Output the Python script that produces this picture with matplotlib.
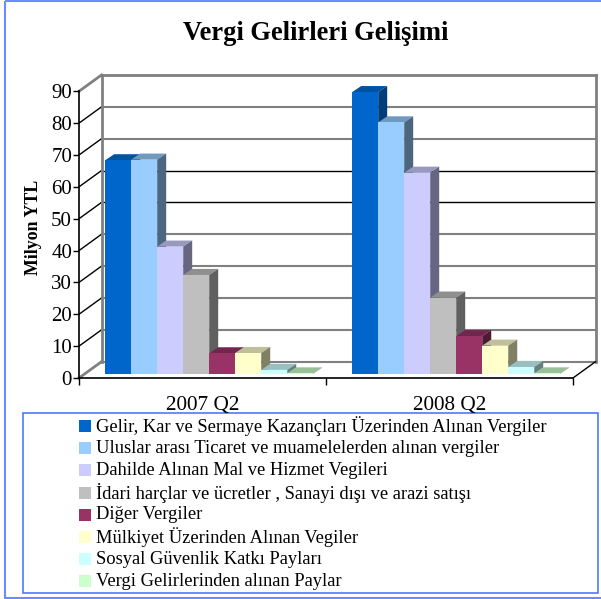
import matplotlib
matplotlib.use('Agg')
import matplotlib.pyplot as plt
from matplotlib.patches import Polygon, Rectangle

W, H = 601, 599

periods = ['2007 Q2', '2008 Q2']
names = ['Gelir, Kar ve Sermaye Kazançları Üzerinden Alınan Vergiler',
         'Uluslar arası Ticaret ve muamelelerden alınan vergiler',
         'Dahilde Alınan Mal ve Hizmet Vegileri',
         'İdari harçlar ve ücretler , Sanayi dışı ve arazi satışı',
         'Diğer Vergiler',
         'Mülkiyet Üzerinden Alınan Vegiler',
         'Sosyal Güvenlik Katkı Payları',
         'Vergi Gelirlerinden alınan Paylar']
values_2007 = [67.0, 67.2, 39.9, 31.0, 6.4, 6.5, 1.2, 0.1]
values_2008 = [88.4, 78.9, 63.1, 23.9, 11.8, 8.8, 2.1, 0.1]
yticks = [0, 10, 20, 30, 40, 50, 60, 70, 80, 90]

front = ['#0066CC', '#99CCFF', '#CCCCFF', '#BFBFBF', '#993366', '#FFFFCC', '#CCFFFF', '#CCFFCC']
top = ['#0052A3', '#7099BF', '#9999BF', '#8F8F8F', '#73264D', '#BFBF99', '#99BFBF', '#99BF99']
side = ['#003D7A', '#4D6680', '#666680', '#606060', '#4D1A33', '#808066', '#668080', '#668066']
grid_colors = {0: '#808080', 10: '#808080', 20: '#808080', 30: '#808080', 40: '#808080',
               50: '#000000', 60: '#000000', 70: '#808080', 80: '#808080', 90: '#808080'}

# depth of the walls and of the bars, in data units
wall_dx, wall_dy = 0.0911, 5.12
bar_dx, bar_dy = 0.0364, 1.9
lift = 1.35
bar_w = 0.1053
start = 0.106

fig = plt.figure(figsize=(W / 100, H / 100), dpi=100)
plt.rcParams['font.family'] = ['Liberation Serif']

# page and legend frames in pixel coordinates
bg = fig.add_axes([0, 0, 1, 1])
bg.set_xlim(0, W)
bg.set_ylim(H, 0)
bg.axis('off')
bg.add_patch(Rectangle((4.5, 0.7), 620, 596.8, fill=False, ec='#6A8CFF', lw=1.5))
bg.add_patch(Rectangle((23, 412.5), 575, 180.5, fc='white', ec='#4D79FF', lw=1.2, zorder=3))
bg.text(316, 33, 'Vergi Gelirleri Gelişimi', ha='center', va='center', fontsize=19.1, fontweight='bold')

ax = fig.add_axes([79 / W, 1 - 378 / H, 494 / W, 286.7 / H])
ax.set_xlim(0, 2)
ax.set_ylim(0, 90)
ax.patch.set_alpha(0)
for s in ['top', 'right']:
    ax.spines[s].set_visible(False)
ax.spines['left'].set_linewidth(1.2)
ax.spines['bottom'].set_linewidth(1.2)
ax.set_xticks([0, 1, 2])
ax.set_xticklabels([])
ax.set_yticks(yticks)
ax.tick_params(axis='y', labelsize=15, length=4, width=1, pad=1)
ax.tick_params(axis='x', length=5, width=1)
ax.set_ylabel('Milyon YTL', fontsize=12.9, fontweight='bold')
ax.yaxis.set_label_coords(-0.074, 0.525)
for i, p in enumerate(periods):
    ax.text(i + 0.5, -10.2, p, ha='center', va='baseline', fontsize=15.3)

# walls
for v in yticks:
    c = grid_colors[v]
    lw = 1.0 if c == '#000000' else 1.5
    if v == 90:
        lw = 2
    ax.plot([wall_dx, 2 + wall_dx], [v + wall_dy, v + wall_dy], color=c, lw=lw, clip_on=False, zorder=1)
    if v in (0, 90):
        ax.plot([0, wall_dx], [v, v + wall_dy], color='#808080', lw=2, clip_on=False, zorder=1)
    else:
        ax.plot([0, wall_dx], [v, v + wall_dy], color='black', lw=1, clip_on=False, zorder=1)
ax.plot([wall_dx, wall_dx], [wall_dy, 90 + wall_dy], color='#808080', lw=2, clip_on=False, zorder=1)
ax.plot([2 + wall_dx, 2 + wall_dx], [wall_dy, 90 + wall_dy], color='#808080', lw=2, clip_on=False, zorder=1)
ax.plot([2, 2 + wall_dx], [0, wall_dy], color='black', lw=1, clip_on=False, zorder=1)

# bars, drawn left to right so each one covers the side of the last
z = 3
for g, series in enumerate([values_2007, values_2008]):
    for j, v in enumerate(series):
        x0 = g + start + j * bar_w
        x1 = x0 + bar_w
        y0, y1 = lift, lift + v
        ax.add_patch(Polygon([(x0, y1), (x1, y1), (x1 + bar_dx, y1 + bar_dy), (x0 + bar_dx, y1 + bar_dy)],
                             fc=top[j], ec='none', clip_on=False, zorder=z))
        ax.add_patch(Polygon([(x1, y0), (x1 + bar_dx, y0 + bar_dy), (x1 + bar_dx, y1 + bar_dy), (x1, y1)],
                             fc=side[j], ec='none', clip_on=False, zorder=z))
        ax.bar(x0, v, bar_w, bottom=y0, align='edge', color=front[j], clip_on=False, zorder=z + 1)
        z += 2

# legend
for i, (n, c) in enumerate(zip(names, front)):
    y = 426 + i * 22.2
    bg.add_patch(Rectangle((79, y - 6), 12, 12, fc=c, ec='none', zorder=4))
    bg.text(95.5, y, n, ha='left', va='center', fontsize=13.3, zorder=4)

fig.savefig('out.png', dpi=100)
